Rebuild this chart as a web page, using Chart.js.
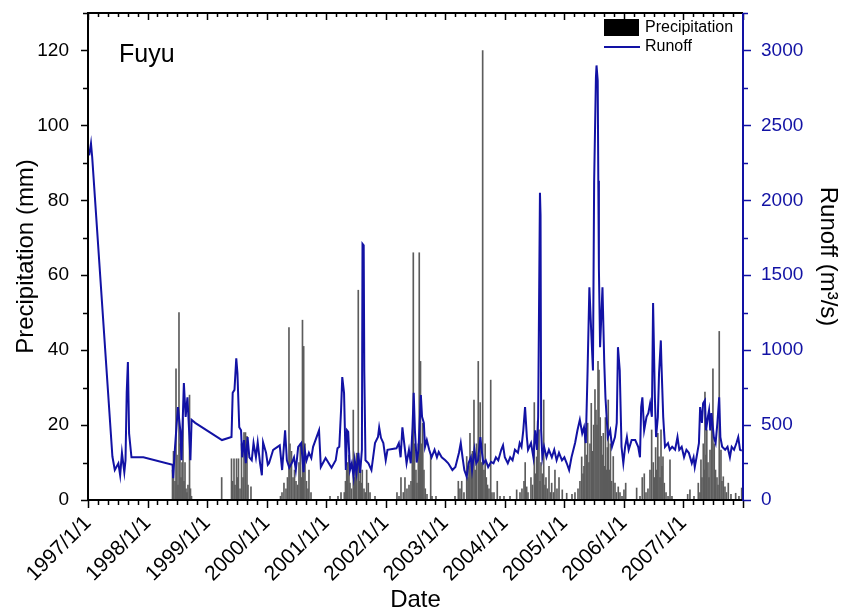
<!DOCTYPE html>
<html>
<head>
<meta charset="utf-8">
<title>Fuyu precipitation and runoff</title>
<script src="https://cdn.jsdelivr.net/npm/chart.js@4.4.1/dist/chart.umd.min.js"></script>
<style>
    html, body { margin: 0; padding: 0; background: #fff; }
    #wrap { width: 842px; height: 613px; }
</style>
</head>
<body>
<div id="wrap"><canvas id="fuyuChart" width="842" height="613"></canvas></div>
<script>
// tick values
const yearTicks = [1997, 1998, 1999, 2000, 2001, 2002, 2003, 2004, 2005, 2006, 2007];
const precipTicks = [0, 20, 40, 60, 80, 100, 120];
const runoffTicks = [0, 500, 1000, 1500, 2000, 2500, 3000];

// precipitation (mm), dates as decimal years
const precipDates = [
    1998.419, 1998.436, 1998.461, 1998.478, 1998.495, 1998.511, 1998.528, 1998.545, 1998.562, 1998.579,
    1998.595, 1998.612, 1998.629, 1998.646, 1998.662, 1998.679, 1998.705, 1998.721, 1998.738,
    1999.245, 1999.410, 1999.427, 1999.452, 1999.469, 1999.494, 1999.511, 1999.527, 1999.553, 1999.578,
    1999.603, 1999.620, 1999.645, 1999.670, 1999.687, 1999.737,
    2000.233, 2000.258, 2000.291, 2000.325, 2000.350, 2000.375, 2000.392, 2000.417, 2000.443, 2000.468,
    2000.493, 2000.518, 2000.543, 2000.565, 2000.585, 2000.602, 2000.622, 2000.644, 2000.669, 2000.694,
    2000.711, 2000.745, 2001.064, 2001.198,
    2001.249, 2001.304, 2001.324, 2001.344, 2001.361, 2001.383, 2001.400, 2001.425, 2001.455, 2001.472,
    2001.489, 2001.512, 2001.539, 2001.554, 2001.571, 2001.588, 2001.606, 2001.635, 2001.655, 2001.680,
    2001.707, 2001.736, 2001.820,
    2002.189, 2002.223, 2002.256, 2002.295, 2002.323, 2002.357, 2002.391, 2002.424, 2002.446, 2002.463,
    2002.483, 2002.508, 2002.525, 2002.547, 2002.563, 2002.584, 2002.604, 2002.622, 2002.642, 2002.664,
    2002.693, 2002.755, 2002.777, 2002.844,
    2003.163, 2003.219, 2003.247, 2003.276, 2003.314, 2003.360, 2003.381, 2003.398, 2003.415, 2003.437,
    2003.457, 2003.482, 2003.502, 2003.524, 2003.554, 2003.569, 2003.586, 2003.603, 2003.628, 2003.650,
    2003.670, 2003.689, 2003.709, 2003.734, 2003.763, 2003.784, 2003.818, 2003.873, 2003.919, 2003.986,
    2004.087, 2004.199,
    2004.255, 2004.288, 2004.322, 2004.342, 2004.367, 2004.389, 2004.439, 2004.465, 2004.495, 2004.515,
    2004.535, 2004.552, 2004.574, 2004.591, 2004.607, 2004.631, 2004.653, 2004.674, 2004.691, 2004.713,
    2004.742, 2004.767, 2004.787, 2004.817, 2004.842, 2004.876, 2004.910, 2004.965, 2005.039, 2005.128,
    2005.178,
    2005.229, 2005.262, 2005.291, 2005.313, 2005.329, 2005.346, 2005.368, 2005.391, 2005.413, 2005.430,
    2005.452, 2005.472, 2005.492, 2005.514, 2005.531, 2005.548, 2005.565, 2005.581, 2005.602, 2005.620,
    2005.637, 2005.654, 2005.674, 2005.690, 2005.707, 2005.722, 2005.737, 2005.756, 2005.774, 2005.793,
    2005.821, 2005.850, 2005.875, 2005.905, 2005.934, 2005.968, 2006.001, 2006.030,
    2006.214, 2006.270, 2006.308, 2006.342, 2006.371, 2006.404, 2006.438, 2006.466, 2006.493, 2006.513,
    2006.533, 2006.552, 2006.569, 2006.589, 2006.606, 2006.623, 2006.640, 2006.656, 2006.678, 2006.707,
    2006.741, 2006.774, 2006.807,
    2007.071, 2007.109, 2007.177, 2007.249, 2007.277, 2007.294, 2007.311, 2007.333, 2007.348, 2007.361,
    2007.378, 2007.392, 2007.412, 2007.429, 2007.446, 2007.474, 2007.495, 2007.517, 2007.538, 2007.563,
    2007.580, 2007.601, 2007.630, 2007.647, 2007.669, 2007.697, 2007.722, 2007.753, 2007.798, 2007.877,
    2007.932, 2007.978
];
const precipValues = [
    8, 13, 5, 35, 12, 4, 50, 15, 6, 10,
    22, 5, 10, 3, 2, 4, 28, 3, 1,
    6, 11, 5, 11, 4, 11, 6, 11, 3, 15,
    6, 18, 18, 17, 4, 3.5,
    1, 2, 4.5, 3, 6, 46, 15, 13, 6, 8,
    5, 4, 10, 15, 6, 48, 41, 15, 5, 3,
    8, 2, 1, 1,
    2, 2, 5, 8, 10, 12, 4.5, 3, 24, 6,
    10, 12.5, 56, 5, 10, 4.5, 8, 3, 2, 8,
    4.5, 2, 1,
    2, 1, 6, 2, 6, 3, 4, 5, 17, 66,
    15, 8, 4.5, 15, 66, 37, 15, 20.5, 8, 3,
    1.5, 12, 1, 1,
    1, 5, 3, 5, 2, 11.6, 6, 9, 17.8, 10,
    13, 26.7, 8, 15, 37, 12, 26, 10, 120, 8,
    15, 6, 4, 3, 32, 2, 2, 5, 1, 1,
    1, 2.7,
    2, 3, 5, 10, 3.5, 2, 6, 4, 26, 7,
    11.5, 21, 18.7, 5, 10, 7, 26.7, 4, 6, 3,
    9, 2, 4.5, 2, 8, 3, 6, 2.7, 1.8, 1.5,
    2,
    3, 5, 11.5, 7, 9, 18.7, 12, 20.5, 10, 15,
    25.8, 13, 20, 29.5, 24, 20, 37, 34.7, 22, 17,
    12, 17.8, 9, 22, 8, 14, 26.7, 8, 15, 5,
    11.6, 4.5, 2, 3.5, 2, 1, 2.7, 4.5,
    3.2, 1, 6, 7, 2, 3, 8, 18.7, 10, 6,
    14, 8, 17.8, 11.5, 6, 18.7, 9, 11.5, 4.5, 2,
    1, 10.7, 1,
    1.5, 2.7, 1, 4.5, 2, 10.7, 6, 15, 8, 28.8,
    12, 18.7, 10, 6, 13.3, 21.3, 35, 15, 8, 6,
    4, 45, 13.3, 5, 6.2, 3.5, 2, 4.5, 1.5, 1.8,
    1, 3.2
];

// runoff (m3/s), dates as decimal years
const runoffDates = [
    1997.02, 1997.05, 1997.07, 1997.41, 1997.45, 1997.51, 1997.54, 1997.57, 1997.61, 1997.63,
    1997.65, 1997.67, 1997.69, 1997.73, 1997.93,
    1998.42, 1998.43, 1998.46, 1998.51, 1998.55, 1998.57, 1998.61, 1998.64, 1998.67, 1998.70,
    1998.72, 1998.74, 1998.80,
    1999.25, 1999.41, 1999.43, 1999.46, 1999.49, 1999.51, 1999.54, 1999.57, 1999.59, 1999.62,
    1999.65, 1999.68, 1999.71, 1999.75, 1999.78, 1999.82, 1999.85, 1999.89, 1999.92, 1999.94,
    1999.99,
    2000.02, 2000.04, 2000.11, 2000.22, 2000.26, 2000.31, 2000.34, 2000.38, 2000.42, 2000.46,
    2000.49, 2000.53, 2000.58, 2000.62, 2000.64, 2000.67, 2000.71, 2000.75, 2000.78, 2000.88,
    2000.91, 2000.99,
    2001.09, 2001.16, 2001.19, 2001.22, 2001.25, 2001.27, 2001.30, 2001.33, 2001.35, 2001.37,
    2001.40, 2001.43, 2001.46, 2001.48, 2001.51, 2001.54, 2001.57, 2001.60, 2001.61, 2001.63,
    2001.64, 2001.66, 2001.71, 2001.76, 2001.82, 2001.87, 2001.89, 2001.92, 2001.96,
    2002.00, 2002.03, 2002.18, 2002.22, 2002.25, 2002.28, 2002.31, 2002.35, 2002.39, 2002.42,
    2002.45, 2002.47, 2002.49, 2002.52, 2002.55, 2002.59, 2002.61, 2002.64, 2002.66, 2002.69,
    2002.73, 2002.77, 2002.82, 2002.86, 2002.89, 2002.94,
    2003.00, 2003.05, 2003.12, 2003.17, 2003.23, 2003.26, 2003.29, 2003.32, 2003.36, 2003.39,
    2003.43, 2003.45, 2003.49, 2003.52, 2003.55, 2003.59, 2003.61, 2003.64, 2003.68, 2003.72,
    2003.77, 2003.81, 2003.85, 2003.89, 2003.94, 2003.97,
    2004.00, 2004.05, 2004.09, 2004.13, 2004.17, 2004.22, 2004.25, 2004.28, 2004.31, 2004.34,
    2004.37, 2004.39, 2004.44, 2004.48, 2004.51, 2004.54, 2004.56, 2004.59, 2004.60, 2004.61,
    2004.63, 2004.66, 2004.70, 2004.74, 2004.79, 2004.83, 2004.87, 2004.91, 2004.96,
    2005.00, 2005.04, 2005.08, 2005.12, 2005.18, 2005.22, 2005.26, 2005.30, 2005.33, 2005.36,
    2005.39, 2005.42, 2005.45, 2005.48, 2005.50, 2005.53, 2005.54, 2005.56, 2005.57, 2005.58,
    2005.60, 2005.64, 2005.67, 2005.69, 2005.73, 2005.77, 2005.80, 2005.85, 2005.88, 2005.90,
    2005.93, 2005.96, 2005.99,
    2006.02, 2006.05, 2006.08, 2006.13, 2006.19, 2006.24, 2006.27, 2006.29, 2006.31, 2006.34,
    2006.38, 2006.41, 2006.44, 2006.47, 2006.49, 2006.52, 2006.54, 2006.57, 2006.59, 2006.62,
    2006.63, 2006.66, 2006.69, 2006.74, 2006.77, 2006.81, 2006.86, 2006.90, 2006.93, 2006.97,
    2007.01, 2007.05, 2007.09, 2007.14, 2007.17, 2007.19, 2007.22, 2007.26, 2007.28, 2007.31,
    2007.33, 2007.36, 2007.38, 2007.41, 2007.43, 2007.45, 2007.47, 2007.51, 2007.54, 2007.57,
    2007.60, 2007.62, 2007.65, 2007.70, 2007.74, 2007.78, 2007.81, 2007.85, 2007.89, 2007.92,
    2007.95, 2007.98
];
const runoffValues = [
    2300, 2380, 2290, 290, 200, 245, 165, 315, 185, 265,
    715, 920, 445, 285, 285,
    235, 145, 345, 620, 465, 265, 780, 555, 685, 445,
    265, 535, 515,
    400, 420, 715, 735, 945, 845, 485, 465, 285, 400,
    245, 420, 285, 265, 380, 285, 385, 245, 165, 385,
    315,
    235, 245, 335, 365, 200, 465, 265, 215, 245, 285,
    200, 355, 380, 185, 330, 265, 315, 280, 355, 465,
    220, 280,
    215, 265, 345, 355, 600, 820, 715, 200, 465, 455,
    200, 245, 155, 265, 180, 315, 180, 335, 1710, 1700,
    865, 265, 245, 200, 380, 420, 485, 415, 380,
    265, 335, 345, 380, 285, 485, 380, 245, 335, 245,
    485, 715, 465, 250, 335, 700, 555, 515, 355, 400,
    335, 285, 335, 285, 320, 285,
    265, 245, 200, 220, 315, 380, 285, 200, 155, 245,
    285, 200, 335, 245, 265, 420, 335, 245, 265, 220,
    255, 245, 285, 265, 335, 365,
    285, 245, 285, 265, 335, 315, 380, 355, 465, 620,
    420, 335, 380, 285, 465, 335, 555, 2050, 1900, 465,
    285, 355, 285, 335, 285, 335, 265, 315, 265,
    285, 245, 200, 285, 380, 465, 535, 445, 485, 380,
    865, 1420, 1135, 865, 2120, 2820, 2900, 2800, 2130, 1545,
    1020, 1420, 915, 685, 420, 465, 355, 420, 515, 1020,
    865, 355, 245,
    355, 420, 335, 400, 400, 355, 285, 620, 685, 465,
    555, 580, 645, 555, 1315, 685, 420, 555, 845, 1065,
    915, 555, 355, 380, 335, 355, 335, 420, 335, 355,
    285, 335, 315, 245, 285, 220, 285, 380, 620, 515,
    645, 665, 465, 555, 600, 465, 580, 420, 380, 515,
    685, 420, 355, 335, 355, 285, 355, 335, 380, 420,
    335, 330
];

const FONT = 'Arial, "Liberation Sans", sans-serif';
const BLUE = '#1212a4';

function fixedTicks(list) {
    return function (scale) {
        scale.ticks = list.map(v => ({ value: v }));
    };
}

// keep the plot box where it is: no extra room for the end labels
function fixedWidth(w) {
    return function (scale) {
        scale.width = w;
        scale.paddingTop = 0;
        scale.paddingBottom = 0;
    };
}

// frame, tick marks, legend and station name
const framePlugin = {
    id: 'framePlugin',
    afterDraw(chart) {
        const { ctx, chartArea: a, scales } = chart;
        const x = scales.x, y = scales.y, y1 = scales.y1;
        ctx.save();
        ctx.lineWidth = 1.5;

        // x ticks: years with two-month minor ticks, bottom (out) and top (in)
        ctx.strokeStyle = '#000';
        ctx.beginPath();
        for (let i = 0; i <= 66; i++) {
            const px = Math.round(x.getPixelForValue(1997 + i / 6)) + 0.5;
            const major = i % 6 === 0;
            ctx.moveTo(px, a.bottom);
            ctx.lineTo(px, a.bottom + (major ? 8 : 5));
            ctx.moveTo(px, a.top);
            ctx.lineTo(px, a.top + (major ? 7 : 4));
        }
        // left ticks every 10 mm
        for (let v = 0; v <= 130; v += 10) {
            const py = Math.round(y.getPixelForValue(v)) + 0.5;
            ctx.moveTo(a.left, py);
            ctx.lineTo(a.left - (v % 20 === 0 ? 7 : 5), py);
        }
        ctx.stroke();

        // frame
        ctx.lineWidth = 2;
        ctx.beginPath();
        ctx.moveTo(a.right, a.top);
        ctx.lineTo(a.left, a.top);
        ctx.lineTo(a.left, a.bottom);
        ctx.lineTo(a.right, a.bottom);
        ctx.stroke();

        // right axis in blue
        ctx.strokeStyle = BLUE;
        ctx.beginPath();
        ctx.moveTo(a.right, a.top);
        ctx.lineTo(a.right, a.bottom + 1);
        ctx.stroke();
        ctx.lineWidth = 1.5;
        ctx.beginPath();
        for (let v = 0; v <= 3250; v += 250) {
            const py = Math.round(y1.getPixelForValue(v)) + 0.5;
            ctx.moveTo(a.right, py);
            ctx.lineTo(a.right + (v % 500 === 0 ? 8 : 5), py);
        }
        ctx.stroke();

        // legend
        const lx = a.right - 139;
        ctx.fillStyle = '#000';
        ctx.fillRect(lx, a.top + 6, 35, 17);
        ctx.strokeStyle = BLUE;
        ctx.lineWidth = 2;
        ctx.beginPath();
        ctx.moveTo(lx, a.top + 34);
        ctx.lineTo(lx + 36, a.top + 34);
        ctx.stroke();
        ctx.font = '16px ' + FONT;
        ctx.textBaseline = 'middle';
        ctx.textAlign = 'left';
        ctx.fillText('Precipitation', lx + 41, a.top + 15);
        ctx.fillText('Runoff', lx + 41, a.top + 34);

        // station name
        ctx.font = '25px ' + FONT;
        ctx.textBaseline = 'alphabetic';
        ctx.fillText('Fuyu', a.left + 31, 62);
        ctx.restore();
    }
};

new Chart(document.getElementById('fuyuChart'), {
    data: {
        datasets: [
            {
                type: 'line',
                label: 'Runoff',
                data: runoffDates.map((d, i) => ({ x: d, y: runoffValues[i] })),
                yAxisID: 'y1',
                borderColor: BLUE,
                borderWidth: 2,
                pointRadius: 0,
                tension: 0,
                order: 0,
            },
            {
                type: 'bar',
                label: 'Precipitation',
                data: precipDates.map((d, i) => ({ x: d, y: precipValues[i] })),
                yAxisID: 'y',
                backgroundColor: '#5c5c5c',
                borderWidth: 0,
                barThickness: 1,
                order: 1,
            },
        ],
    },
    options: {
        responsive: false,
        animation: false,
        layout: {
            padding: { top: 13, right: 0, bottom: 0, left: 0 },
        },
        plugins: {
            legend: { display: false },
            tooltip: { enabled: false },
        },
        scales: {
            x: {
                type: 'linear',
                min: 1997,
                max: 2008,
                offset: false,
                afterBuildTicks: fixedTicks(yearTicks),
                afterFit: function (scale) { scale.height = 113; },
                grid: { display: false, offset: false },
                border: { display: false },
                ticks: {
                    autoSkip: false,
                    minRotation: 45,
                    maxRotation: 45,
                    padding: 3,
                    color: '#000',
                    font: { family: FONT, size: 21 },
                    callback: function (value) { return value + '/1/1'; },
                },
                title: {
                    display: true,
                    text: 'Date',
                    color: '#000',
                    font: { family: FONT, size: 24 },
                    padding: { top: 0, bottom: -2 },
                },
            },
            y: {
                position: 'left',
                min: 0,
                max: 130,
                afterBuildTicks: fixedTicks(precipTicks),
                afterFit: fixedWidth(88),
                grid: { display: false },
                border: { display: false },
                ticks: {
                    padding: 11,
                    color: '#000',
                    font: { family: FONT, size: 19 },
                    callback: function (value) { return String(value); },
                },
                title: {
                    display: true,
                    text: 'Precipitation (mm)',
                    color: '#000',
                    font: { family: FONT, size: 24 },
                    padding: { top: 12, bottom: 0 },
                },
            },
            y1: {
                position: 'right',
                min: 0,
                max: 3250,
                afterBuildTicks: fixedTicks(runoffTicks),
                afterFit: fixedWidth(99),
                grid: { display: false },
                border: { display: false },
                ticks: {
                    padding: 10,
                    color: BLUE,
                    font: { family: FONT, size: 19 },
                    callback: function (value) { return String(value); },
                },
                title: {
                    display: true,
                    text: 'Runoff (m³/s)',
                    color: '#000',
                    font: { family: FONT, size: 24 },
                    padding: { top: 0, bottom: 0 },
                },
            },
        },
    },
    plugins: [framePlugin],
});
</script>
</body>
</html>
